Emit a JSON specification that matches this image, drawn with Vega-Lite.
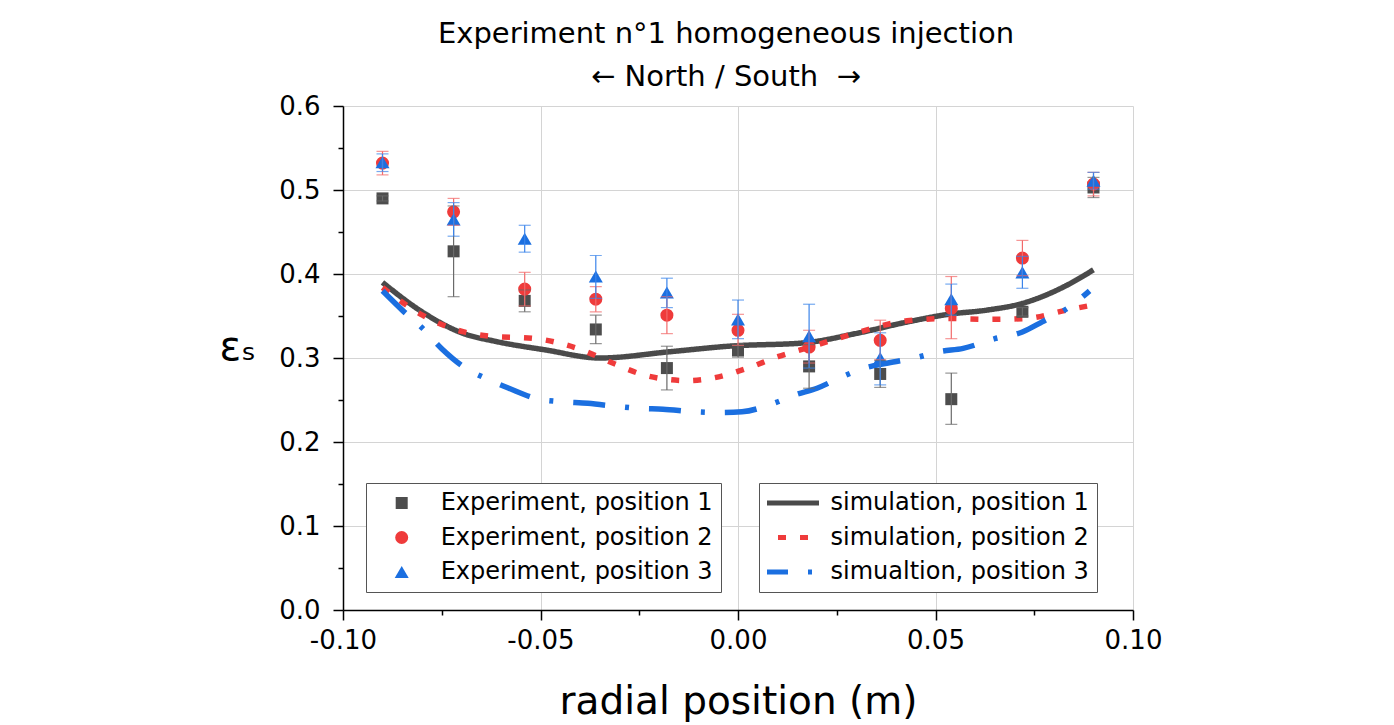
{
  "$schema": "https://vega.github.io/schema/vega-lite/v6.json",
  "width": 790,
  "height": 504,
  "autosize": "none",
  "padding": {"left": 343, "top": 106, "right": 261, "bottom": 115},
  "background": "white",
  "config": {"view": {"stroke": null}, "font": "DejaVu Sans"},
  "title": {
    "text": "Experiment n°1 homogeneous injection",
    "subtitle": "← North / South\u00a0 →",
    "anchor": "middle",
    "dx": -12,
    "font": "DejaVu Sans",
    "subtitleFont": "DejaVu Sans",
    "fontSize": 29,
    "subtitleFontSize": 29,
    "fontWeight": "normal",
    "color": "black",
    "subtitleColor": "black",
    "offset": 1,
    "subtitlePadding": 14
  },
  "datasets": {
    "exp": [
      {"x": -0.09, "series": "Experiment, position 1", "y": 0.490, "lo": 0.487, "hi": 0.493},
      {"x": -0.072, "series": "Experiment, position 1", "y": 0.427, "lo": 0.373, "hi": 0.481},
      {"x": -0.054, "series": "Experiment, position 1", "y": 0.368, "lo": 0.355, "hi": 0.381},
      {"x": -0.036, "series": "Experiment, position 1", "y": 0.334, "lo": 0.317, "hi": 0.351},
      {"x": -0.018, "series": "Experiment, position 1", "y": 0.288, "lo": 0.262, "hi": 0.314},
      {"x": 0.0, "series": "Experiment, position 1", "y": 0.309, "lo": 0.301, "hi": 0.317},
      {"x": 0.018, "series": "Experiment, position 1", "y": 0.290, "lo": 0.264, "hi": 0.316},
      {"x": 0.036, "series": "Experiment, position 1", "y": 0.281, "lo": 0.265, "hi": 0.297},
      {"x": 0.054, "series": "Experiment, position 1", "y": 0.251, "lo": 0.221, "hi": 0.282},
      {"x": 0.072, "series": "Experiment, position 1", "y": 0.355, "lo": 0.350, "hi": 0.360},
      {"x": 0.09, "series": "Experiment, position 1", "y": 0.503, "lo": 0.491, "hi": 0.515},
      {"x": -0.09, "series": "Experiment, position 2", "y": 0.532, "lo": 0.518, "hi": 0.546},
      {"x": -0.072, "series": "Experiment, position 2", "y": 0.474, "lo": 0.458, "hi": 0.490},
      {"x": -0.054, "series": "Experiment, position 2", "y": 0.382, "lo": 0.362, "hi": 0.402},
      {"x": -0.036, "series": "Experiment, position 2", "y": 0.370, "lo": 0.355, "hi": 0.385},
      {"x": -0.018, "series": "Experiment, position 2", "y": 0.351, "lo": 0.329, "hi": 0.373},
      {"x": 0.0, "series": "Experiment, position 2", "y": 0.333, "lo": 0.315, "hi": 0.352},
      {"x": 0.018, "series": "Experiment, position 2", "y": 0.313, "lo": 0.294, "hi": 0.333},
      {"x": 0.036, "series": "Experiment, position 2", "y": 0.321, "lo": 0.298, "hi": 0.345},
      {"x": 0.054, "series": "Experiment, position 2", "y": 0.359, "lo": 0.323, "hi": 0.397},
      {"x": 0.072, "series": "Experiment, position 2", "y": 0.419, "lo": 0.398, "hi": 0.440},
      {"x": 0.09, "series": "Experiment, position 2", "y": 0.507, "lo": 0.493, "hi": 0.521},
      {"x": -0.09, "series": "Experiment, position 3", "y": 0.533, "lo": 0.522, "hi": 0.543},
      {"x": -0.072, "series": "Experiment, position 3", "y": 0.465, "lo": 0.445, "hi": 0.485},
      {"x": -0.054, "series": "Experiment, position 3", "y": 0.442, "lo": 0.426, "hi": 0.458},
      {"x": -0.036, "series": "Experiment, position 3", "y": 0.397, "lo": 0.371, "hi": 0.422},
      {"x": -0.018, "series": "Experiment, position 3", "y": 0.378, "lo": 0.360, "hi": 0.395},
      {"x": 0.0, "series": "Experiment, position 3", "y": 0.346, "lo": 0.323, "hi": 0.369},
      {"x": 0.018, "series": "Experiment, position 3", "y": 0.326, "lo": 0.288, "hi": 0.364},
      {"x": 0.036, "series": "Experiment, position 3", "y": 0.300, "lo": 0.268, "hi": 0.330},
      {"x": 0.054, "series": "Experiment, position 3", "y": 0.370, "lo": 0.351, "hi": 0.388},
      {"x": 0.072, "series": "Experiment, position 3", "y": 0.402, "lo": 0.383, "hi": 0.421},
      {"x": 0.09, "series": "Experiment, position 3", "y": 0.511, "lo": 0.501, "hi": 0.521}
    ],
    "sim": [
      {"x": -0.09, "sim": "simulation, position 1", "y": 0.390},
      {"x": -0.08, "sim": "simulation, position 1", "y": 0.355},
      {"x": -0.0694, "sim": "simulation, position 1", "y": 0.329},
      {"x": -0.0616, "sim": "simulation, position 1", "y": 0.320},
      {"x": -0.0486, "sim": "simulation, position 1", "y": 0.3095},
      {"x": -0.035, "sim": "simulation, position 1", "y": 0.300},
      {"x": -0.0172, "sim": "simulation, position 1", "y": 0.3075},
      {"x": -0.0016, "sim": "simulation, position 1", "y": 0.3143},
      {"x": 0.0167, "sim": "simulation, position 1", "y": 0.318},
      {"x": 0.0297, "sim": "simulation, position 1", "y": 0.329},
      {"x": 0.043, "sim": "simulation, position 1", "y": 0.343},
      {"x": 0.0532, "sim": "simulation, position 1", "y": 0.352},
      {"x": 0.063, "sim": "simulation, position 1", "y": 0.357},
      {"x": 0.072, "sim": "simulation, position 1", "y": 0.365},
      {"x": 0.083, "sim": "simulation, position 1", "y": 0.386},
      {"x": 0.09, "sim": "simulation, position 1", "y": 0.405},
      {"x": -0.09, "sim": "simulation, position 2", "y": 0.384},
      {"x": -0.0799, "sim": "simulation, position 2", "y": 0.351},
      {"x": -0.0694, "sim": "simulation, position 2", "y": 0.331},
      {"x": -0.0629, "sim": "simulation, position 2", "y": 0.326},
      {"x": -0.0519, "sim": "simulation, position 2", "y": 0.3234},
      {"x": -0.0407, "sim": "simulation, position 2", "y": 0.3115},
      {"x": -0.0316, "sim": "simulation, position 2", "y": 0.2937},
      {"x": -0.0238, "sim": "simulation, position 2", "y": 0.2798},
      {"x": -0.0127, "sim": "simulation, position 2", "y": 0.273},
      {"x": -0.0068, "sim": "simulation, position 2", "y": 0.2758},
      {"x": 0.0023, "sim": "simulation, position 2", "y": 0.2877},
      {"x": 0.0101, "sim": "simulation, position 2", "y": 0.3016},
      {"x": 0.0186, "sim": "simulation, position 2", "y": 0.3135},
      {"x": 0.031, "sim": "simulation, position 2", "y": 0.3313},
      {"x": 0.0428, "sim": "simulation, position 2", "y": 0.3444},
      {"x": 0.0532, "sim": "simulation, position 2", "y": 0.347},
      {"x": 0.0636, "sim": "simulation, position 2", "y": 0.346},
      {"x": 0.0728, "sim": "simulation, position 2", "y": 0.347},
      {"x": 0.0832, "sim": "simulation, position 2", "y": 0.357},
      {"x": 0.0898, "sim": "simulation, position 2", "y": 0.363},
      {"x": -0.09, "sim": "simualtion, position 3", "y": 0.380},
      {"x": -0.085, "sim": "simualtion, position 3", "y": 0.357},
      {"x": -0.08, "sim": "simualtion, position 3", "y": 0.336},
      {"x": -0.075, "sim": "simualtion, position 3", "y": 0.311},
      {"x": -0.069, "sim": "simualtion, position 3", "y": 0.288},
      {"x": -0.064, "sim": "simualtion, position 3", "y": 0.276},
      {"x": -0.058, "sim": "simualtion, position 3", "y": 0.264},
      {"x": -0.0505, "sim": "simualtion, position 3", "y": 0.251},
      {"x": -0.045, "sim": "simualtion, position 3", "y": 0.248},
      {"x": -0.038, "sim": "simualtion, position 3", "y": 0.246},
      {"x": -0.03, "sim": "simualtion, position 3", "y": 0.242},
      {"x": -0.025, "sim": "simualtion, position 3", "y": 0.240},
      {"x": -0.019, "sim": "simualtion, position 3", "y": 0.239},
      {"x": -0.011, "sim": "simualtion, position 3", "y": 0.236},
      {"x": -0.005, "sim": "simualtion, position 3", "y": 0.235},
      {"x": 0.001, "sim": "simualtion, position 3", "y": 0.236},
      {"x": 0.009, "sim": "simualtion, position 3", "y": 0.246},
      {"x": 0.0144, "sim": "simualtion, position 3", "y": 0.256},
      {"x": 0.02, "sim": "simualtion, position 3", "y": 0.264},
      {"x": 0.0265, "sim": "simualtion, position 3", "y": 0.278},
      {"x": 0.032, "sim": "simualtion, position 3", "y": 0.288},
      {"x": 0.038, "sim": "simualtion, position 3", "y": 0.294},
      {"x": 0.0456, "sim": "simualtion, position 3", "y": 0.301},
      {"x": 0.051, "sim": "simualtion, position 3", "y": 0.3075},
      {"x": 0.057, "sim": "simualtion, position 3", "y": 0.3115},
      {"x": 0.065, "sim": "simualtion, position 3", "y": 0.323},
      {"x": 0.072, "sim": "simualtion, position 3", "y": 0.331},
      {"x": 0.077, "sim": "simualtion, position 3", "y": 0.343},
      {"x": 0.0846, "sim": "simualtion, position 3", "y": 0.363},
      {"x": 0.089, "sim": "simualtion, position 3", "y": 0.380}
    ]
  },
  "layer": [
    {
      "data": {"name": "sim"},
      "mark": {"type": "line", "interpolate": "monotone", "strokeWidth": 5.5},
      "encoding": {
        "x": {
          "field": "x", "type": "quantitative",
          "scale": {"domain": [-0.1, 0.1], "nice": false, "zero": false},
          "axis": {
            "orient": "bottom",
            "title": "radial position (m)",
            "values": [-0.1, -0.05, 0, 0.05, 0.1],
            "labelExpr": "replace(format(datum.value, '.2f'), '−', '-')",
            "tickSize": 10,
            "grid": true,
            "gridColor": "#d4d4d4",
            "gridWidth": 1,
            "domainColor": "black",
            "domainWidth": 1.5,
            "tickColor": "black",
            "tickWidth": 1.5,
            "labelFont": "DejaVu Sans",
            "labelFontSize": 26,
            "labelColor": "black",
            "labelPadding": 7,
            "labelFlush": false,
            "labelOverlap": false,
            "titleFont": "DejaVu Sans",
            "titleFontSize": 39,
            "titleFontWeight": "normal",
            "titleColor": "black",
            "titleX": 395,
            "titleY": 103,
            "titleAlign": "center",
            "titleBaseline": "alphabetic"
          }
        },
        "y": {
          "field": "y", "type": "quantitative",
          "scale": {"domain": [0, 0.6], "nice": false, "zero": false},
          "axis": {
            "orient": "left",
            "title": "εₛ",
            "values": [0, 0.1, 0.2, 0.3, 0.4, 0.5, 0.6],
            "format": ".1f",
            "tickSize": 10,
            "grid": true,
            "gridColor": "#d4d4d4",
            "gridWidth": 1,
            "domainColor": "black",
            "domainWidth": 1.5,
            "tickColor": "black",
            "tickWidth": 1.5,
            "labelFont": "DejaVu Sans",
            "labelFontSize": 26,
            "labelColor": "black",
            "labelPadding": 13,
            "labelFlush": false,
            "labelOverlap": false,
            "titleFont": "DejaVu Sans",
            "titleFontSize": 40,
            "titleFontWeight": "normal",
            "titleColor": "black",
            "titleAngle": 0,
            "titleX": -124,
            "titleY": 253,
            "titleAlign": "left",
            "titleBaseline": "alphabetic"
          }
        },
        "color": {
          "field": "sim", "type": "nominal",
          "scale": {
            "domain": ["simulation, position 1", "simulation, position 2", "simualtion, position 3"],
            "range": ["#4a4a4a", "#ef3b3b", "#1b6fe0"]
          },
          "legend": {
            "title": null, "orient": "none", "legendX": 416, "legendY": 377,
            "padding": 8, "rowPadding": 10.5, "clipHeight": 24,
            "symbolType": "stroke", "symbolSize": 3969, "symbolStrokeWidth": 5,
            "symbolOffset": -13.5, "labelOffset": 9,
            "labelFont": "DejaVu Sans", "labelFontSize": 24, "labelColor": "black", "labelLimit": 500,
            "strokeColor": "#555555", "fillColor": "white"
          }
        },
        "strokeDash": {
          "field": "sim", "type": "nominal",
          "scale": {
            "domain": ["simulation, position 1", "simulation, position 2", "simualtion, position 3"],
            "range": [[1, 0], [8, 14], [32, 20, 4, 20]]
          },
          "legend": {
            "title": null, "orient": "none", "legendX": 416, "legendY": 377,
            "padding": 8, "rowPadding": 10.5, "clipHeight": 24,
            "symbolType": "stroke", "symbolSize": 3969, "symbolStrokeWidth": 5,
            "symbolOffset": -13.5, "labelOffset": 9,
            "labelFont": "DejaVu Sans", "labelFontSize": 24, "labelColor": "black", "labelLimit": 500,
            "strokeColor": "#555555", "fillColor": "white"
          }
        }
      }
    },
    {
      "data": {"name": "exp"},
      "mark": {"type": "point", "filled": true, "opacity": 1},
      "encoding": {
        "x": {
          "field": "x", "type": "quantitative",
          "axis": {"orient": "bottom", "values": [-0.075, -0.025, 0.025, 0.075], "labels": false, "grid": false, "domain": false, "tickSize": 5, "tickWidth": 1.5, "tickColor": "black", "title": null}
        },
        "y": {
          "field": "y", "type": "quantitative",
          "axis": {"orient": "left", "values": [0.05, 0.15, 0.25, 0.35, 0.45, 0.55], "labels": false, "grid": false, "domain": false, "tickSize": 5, "tickWidth": 1.5, "tickColor": "black", "title": null}
        },
        "color": {
          "field": "series", "type": "nominal",
          "scale": {
            "domain": ["Experiment, position 1", "Experiment, position 2", "Experiment, position 3"],
            "range": ["#4d4d4d", "#ef3b3b", "#1b6fe0"]
          },
          "legend": {
            "title": null, "orient": "none", "legendX": 23, "legendY": 377,
            "padding": 8, "rowPadding": 10.5, "clipHeight": 24,
            "symbolSize": 170, "symbolStrokeWidth": 0,
            "symbolOffset": 15.7, "labelOffset": 27,
            "labelFont": "DejaVu Sans", "labelFontSize": 24, "labelColor": "black", "labelLimit": 500,
            "strokeColor": "#555555", "fillColor": "white"
          }
        },
        "shape": {
          "field": "series", "type": "nominal",
          "scale": {
            "domain": ["Experiment, position 1", "Experiment, position 2", "Experiment, position 3"],
            "range": ["square", "circle", "triangle-up"]
          },
          "legend": {
            "title": null, "orient": "none", "legendX": 23, "legendY": 377,
            "padding": 8, "rowPadding": 10.5, "clipHeight": 24,
            "symbolSize": 170, "symbolStrokeWidth": 0,
            "symbolOffset": 15.7, "labelOffset": 27,
            "labelFont": "DejaVu Sans", "labelFontSize": 24, "labelColor": "black", "labelLimit": 500,
            "strokeColor": "#555555", "fillColor": "white"
          }
        },
        "size": {
          "field": "series", "type": "ordinal",
          "scale": {
            "domain": ["Experiment, position 1", "Experiment, position 2", "Experiment, position 3"],
            "range": [144, 196, 256]
          },
          "legend": null
        }
      }
    },
    {
      "data": {"name": "exp"},
      "mark": {"type": "errorbar", "ticks": true, "size": 12, "thickness": 1.2},
      "encoding": {
        "x": {"field": "x", "type": "quantitative", "axis": null},
        "y": {"field": "lo", "type": "quantitative", "axis": null},
        "y2": {"field": "hi"},
        "color": {
          "field": "series", "type": "nominal",
          "scale": {
            "domain": ["Experiment, position 1", "Experiment, position 2", "Experiment, position 3"],
            "range": ["#6a6a6a", "#f26a6a", "#3b84ea"]
          },
          "legend": null
        }
      }
    }
  ],
  "resolve": {
    "scale": {"color": "independent", "shape": "independent", "strokeDash": "independent", "size": "independent"},
    "axis": {"x": "independent", "y": "independent"}
  }
}
